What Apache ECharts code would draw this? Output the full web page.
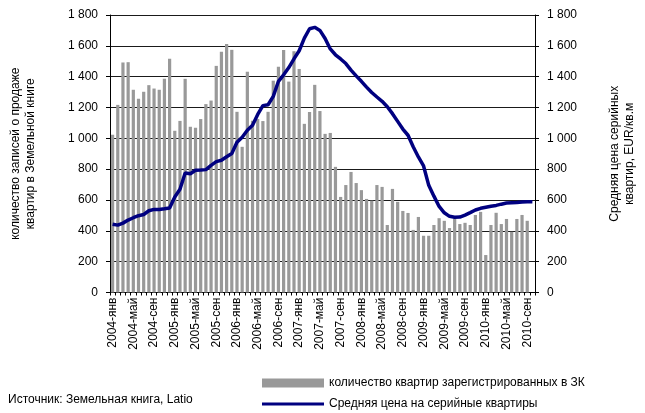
<!DOCTYPE html>
<html><head><meta charset="utf-8">
<script src="https://cdn.jsdelivr.net/npm/echarts@6/dist/echarts.min.js"></script>
<style>html,body{margin:0;padding:0;background:#fff}#c{width:645px;height:413px}</style>
</head><body><div id="c"></div>
<script>
var monthNames = ['янв','фев','мар','апр','май','июн','июл','авг','сен','окт','ноя','дек'];
var years = [2004, 2005, 2006, 2007, 2008, 2009, 2010];
var lastMonthIndex2010 = 9; // up to 2010-окт
var categories = [];
years.forEach(function (y) {
  monthNames.forEach(function (m, i) {
    if (y < 2010 || i <= lastMonthIndex2010) categories.push(y + '-' + m);
  });
});

var registeredFlats = [
  1023, 1217, 1492, 1494, 1315, 1256, 1302, 1345, 1323, 1315, 1386, 1516,
  1049, 1113, 1386, 1075, 1068, 1125, 1222, 1245, 1470, 1562, 1612, 1574,
  1172, 945, 1432, 1114, 1125, 1112, 1172, 1374, 1465, 1573, 1368, 1565,
  1450, 1094, 1171, 1347, 1177, 1029, 1035, 815, 620, 697, 782, 710,
  664, 607, 596, 697, 685, 438, 672, 588, 529, 516, 406, 490,
  368, 368, 438, 482, 465, 418, 481, 444, 452, 438, 503, 523,
  243, 438, 517, 444, 477, 394, 477, 503, 465, null
];
var avgPrice = [
  443, 437, 450, 470, 485, 498, 506, 530, 539, 539, 543, 548,
  620, 670, 775, 770, 793, 794, 797, 825, 849, 858, 880, 902,
  975, 1007, 1052, 1085, 1155, 1212, 1218, 1272, 1370, 1412, 1459, 1516,
  1568, 1650, 1711, 1720, 1700, 1648, 1580, 1542, 1515, 1485, 1442, 1405,
  1370, 1332, 1297, 1268, 1240, 1205, 1160, 1110, 1060, 1020, 945, 879,
  821, 695, 625, 558, 517, 494, 488, 489, 502, 518, 535, 546,
  553, 560, 565, 573, 580, 582, 584, 587, 589, 588
];
var seriesNames = ['количество квартир зарегистрированных в ЗК', 'Средняя цена на серийные квартиры'];
var leftAxisName = 'количество записей о продаже\nквартир в Земельной книге';
var rightAxisName = 'Средняя цена серийных\nквартир, EUR/кв.м';
var sourceText = 'Источник: Земельная книга, Latio';

function fmt(v) {
  if (v >= 1000) { var r = String(v % 1000); while (r.length < 3) r = '0' + r; return Math.floor(v / 1000) + ' ' + r; }
  return String(v);
}
var font = 'Liberation Sans, Arial, sans-serif';
var chart = echarts.init(document.getElementById('c'), null, {renderer: 'canvas'});
var yBase = {
  type: 'value', min: 0, max: 1800, interval: 200,
  axisLine: {show: true, lineStyle: {color: '#000', width: 1}},
  axisTick: {show: true, length: 4, lineStyle: {color: '#000'}},
  axisLabel: {color: '#000', fontSize: 12, fontFamily: font, formatter: fmt},
  nameLocation: 'middle', nameRotate: 90,
  nameTextStyle: {color: '#000', fontSize: 12, fontFamily: font, lineHeight: 15}
};
chart.setOption({
  animation: false,
  textStyle: {fontFamily: font},
  grid: {left: 107, right: 101, top: 15, bottom: 120.5, containLabel: false},
  xAxis: {
    type: 'category', data: categories, boundaryGap: true,
    axisLine: {lineStyle: {color: '#000'}},
    axisTick: {show: true, interval: 0, length: 3, alignWithLabel: false, lineStyle: {color: '#000'}},
    axisLabel: {interval: 3, rotate: 90, color: '#000', fontSize: 12, fontFamily: font, margin: 5}
  },
  yAxis: [
    Object.assign({}, yBase, {position: 'left', name: leftAxisName, nameGap: 72,
      axisLabel: Object.assign({}, yBase.axisLabel, {margin: 12}),
      splitLine: {show: true, lineStyle: {color: '#1a1a1a', width: 1}}}),
    Object.assign({}, yBase, {position: 'right', name: rightAxisName, nameGap: 72,
      axisLabel: Object.assign({}, yBase.axisLabel, {margin: 12}),
      splitLine: {show: false}})
  ],
  legend: [
    {data: [{name: seriesNames[0], icon: 'rect'}], left: 262, top: 377, itemWidth: 62, itemHeight: 9, itemGap: 4,
      textStyle: {color: '#000', fontSize: 12, fontFamily: font}, padding: 0},
    {data: [{name: seriesNames[1], icon: 'rect'}], left: 262, top: 398, itemWidth: 62, itemHeight: 3, itemGap: 4,
      textStyle: {color: '#000', fontSize: 12, fontFamily: font}, padding: 0}
  ],
  graphic: [{type: 'text', left: 8, top: 394, style: {text: sourceText, fill: '#000', font: '12px ' + font}}],
  series: [
    {name: seriesNames[0], type: 'bar', yAxisIndex: 0, data: registeredFlats, barCategoryGap: '38%',
      itemStyle: {color: '#999999'}},
    {name: seriesNames[1], type: 'line', yAxisIndex: 1, data: avgPrice, showSymbol: false, symbol: 'none',
      lineStyle: {color: '#000080', width: 3.5}, itemStyle: {color: '#000080'}, z: 5}
  ]
});
</script></body></html>
